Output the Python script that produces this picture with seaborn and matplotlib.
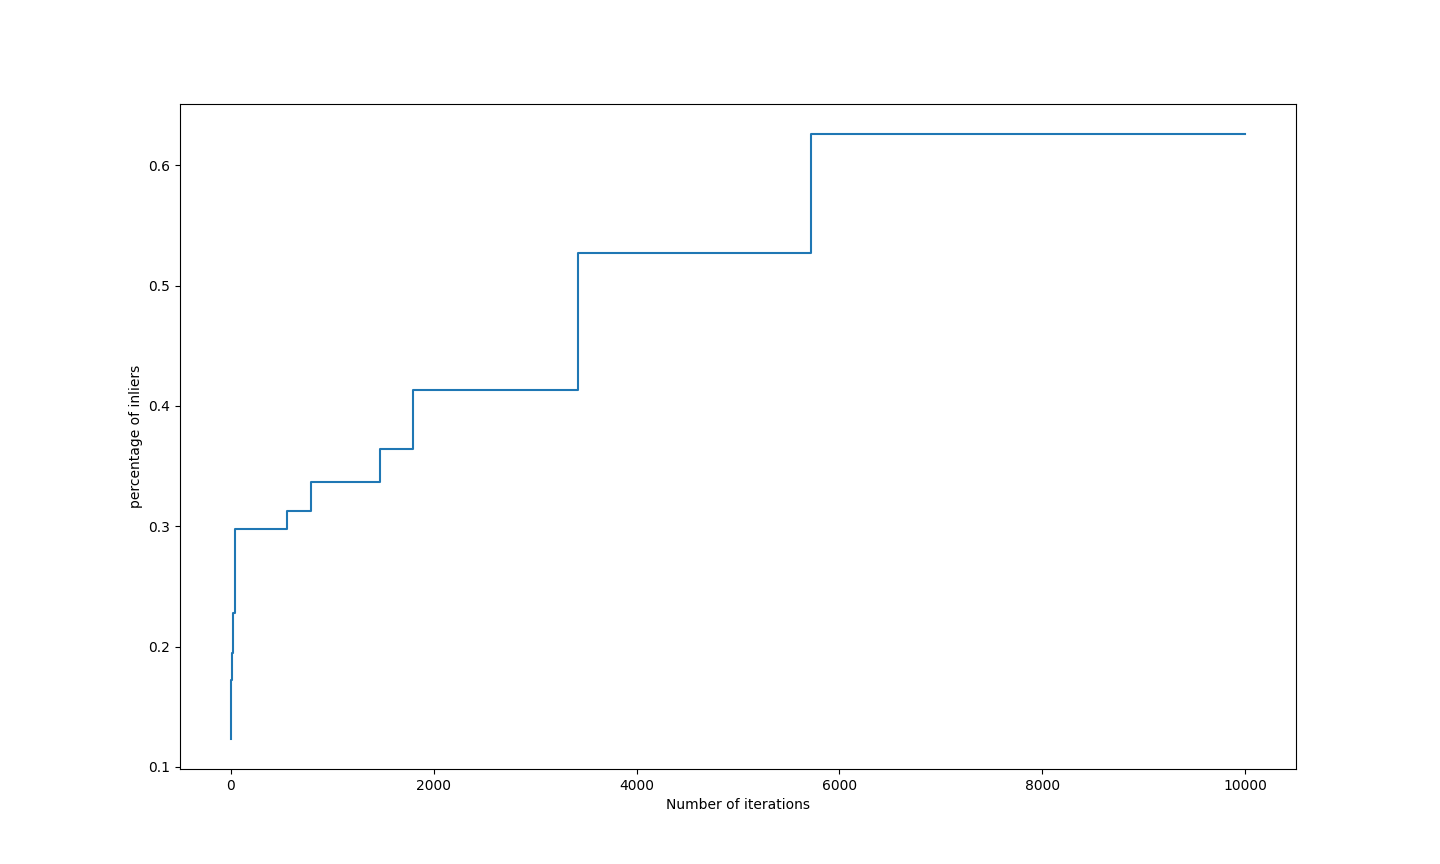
import matplotlib
matplotlib.use('Agg')
import matplotlib.pyplot as plt
import seaborn as sns
import pandas as pd

# iterations where the best inlier ratio improved (step points)
iterations = [0, 2, 5, 10, 20, 42, 556, 789, 1468, 1800, 3427, 5717, 10000]
inlier_ratio = [0.1234, 0.158, 0.172, 0.195, 0.228, 0.298, 0.313, 0.337,
                0.364, 0.413, 0.527, 0.626, 0.626]

df = pd.DataFrame({'iteration': iterations, 'ratio': inlier_ratio})

fig, ax = plt.subplots(figsize=(14.4, 8.64), dpi=100)
sns.lineplot(data=df, x='iteration', y='ratio', drawstyle='steps-post', ax=ax)
ax.set_xlabel('Number of iterations')
ax.set_ylabel('percentage of inliers')
plt.savefig('out.png')
plt.close()
